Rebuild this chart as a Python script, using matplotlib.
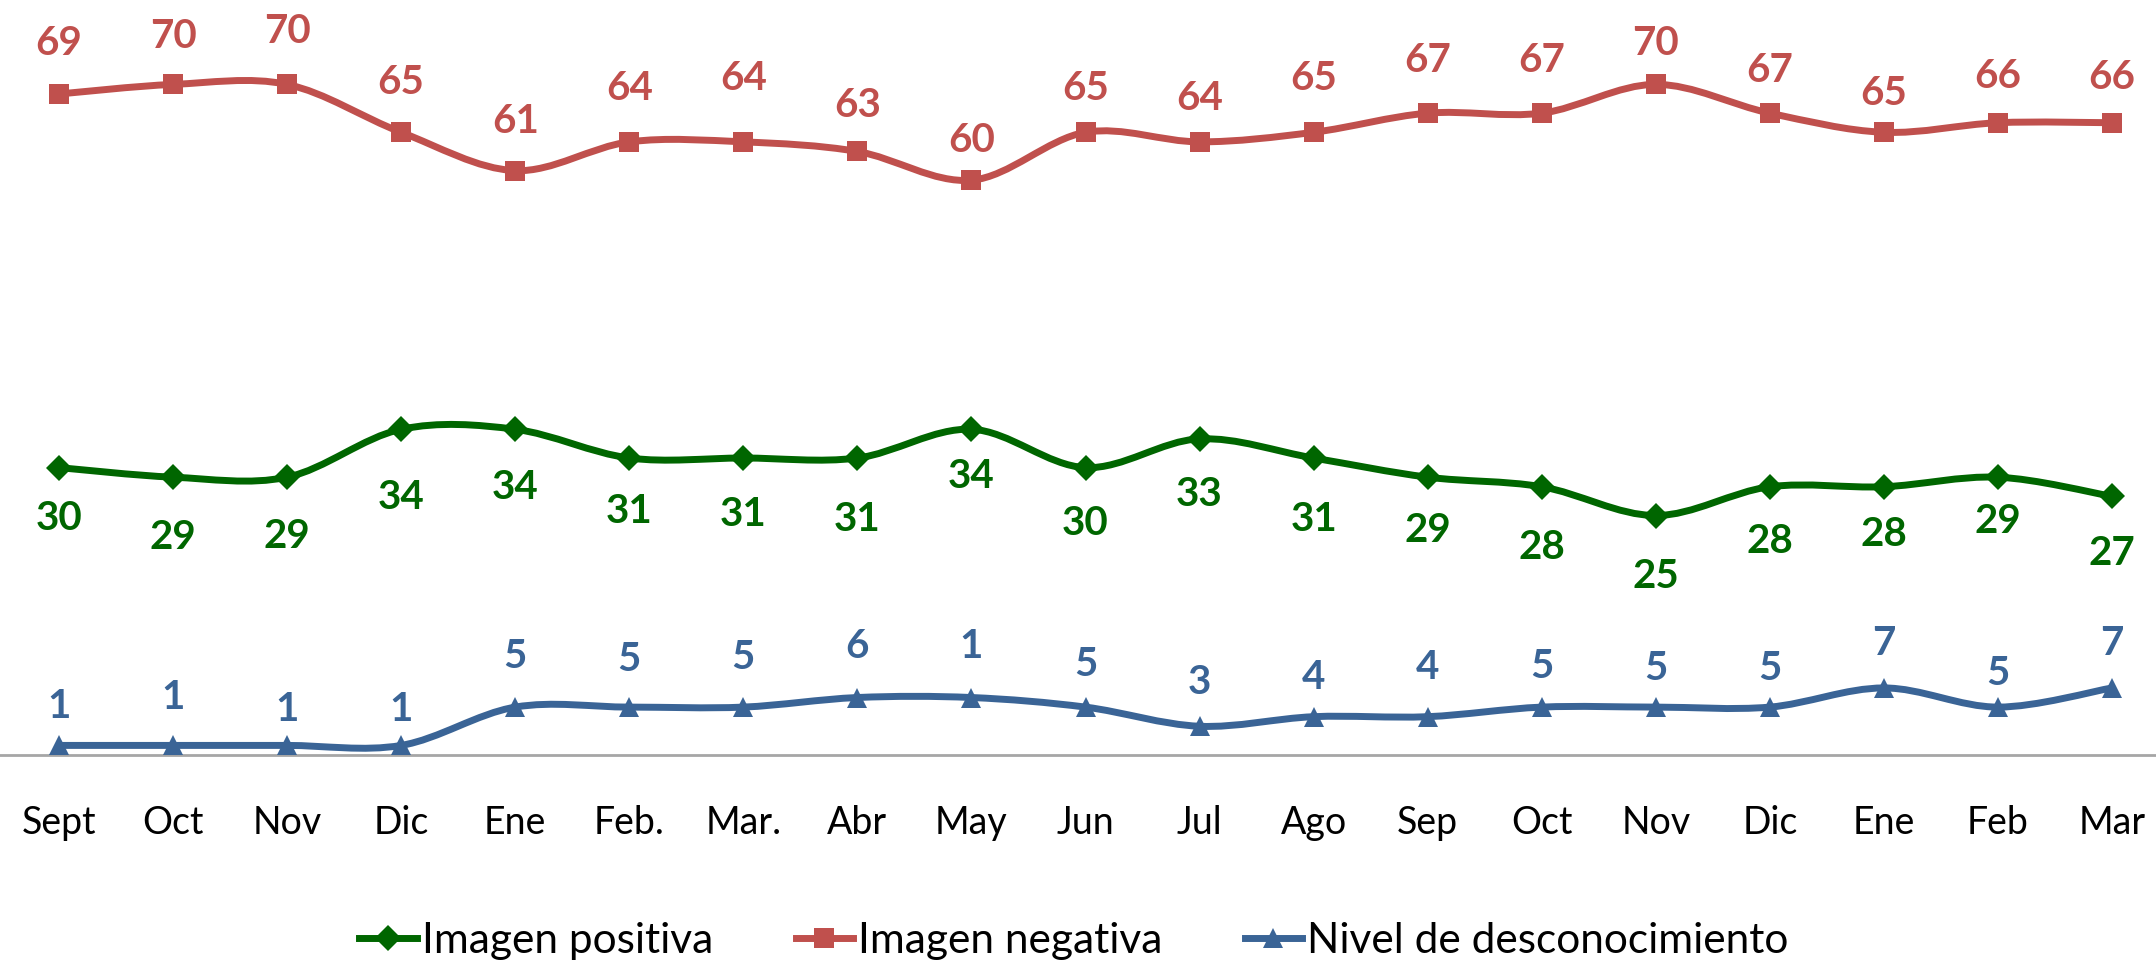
import numpy as np
import matplotlib
matplotlib.use("Agg")
import matplotlib.pyplot as plt
from matplotlib.path import Path
from matplotlib.patches import PathPatch
from matplotlib.lines import Line2D

plt.rcParams['font.family'] = ['Lato', 'DejaVu Sans']

months = ["Sept", "Oct", "Nov", "Dic", "Ene", "Feb.", "Mar.", "Abr", "May", "Jun",
          "Jul", "Ago", "Sep", "Oct", "Nov", "Dic", "Ene", "Feb", "Mar"]

positiva = [30, 29, 29, 34, 34, 31, 31, 31, 34, 30, 33, 31, 29, 28, 25, 28, 28, 29, 27]
negativa = [69, 70, 70, 65, 61, 64, 64, 63, 60, 65, 64, 65, 67, 67, 70, 67, 65, 66, 66]
# plotted level of the "unknown" series and the labels printed on it (May shows "1")
desconoc = [1, 1, 1, 1, 5, 5, 5, 6, 6, 5, 3, 4, 4, 5, 5, 5, 7, 5, 7]
desconoc_labels = ["1", "1", "1", "1", "5", "5", "5", "6", "1", "5", "3", "4", "4",
                   "5", "5", "5", "7", "5", "7"]

GREEN = "#006600"
RED = "#C0504D"
BLUE = "#3A6496"

# label distance from the marker, in pixels (labels were nudged by hand)
off_pos = [47, 56, 55, 64, 54, 49, 52, 57, 43, 52, 52, 57, 49, 57, 57, 51, 44, 40, 53]
off_neg = [54, 52, 57, 54, 53, 57, 67, 50, 44, 48, 47, 58, 57, 57, 45, 47, 43, 50, 49]
off_des = [43, 52, 40, 40, 55, 52, 54, 55, 55, 47, 48, 43, 53, 45, 43, 43, 48, 38, 48]
TEXT_SHIFT = -4  # digits sit above the centre of their text box


def smooth_path(xs, ys):
    # Excel-like smoothed line: Catmull-Rom turned into cubic Bezier segments
    pts = np.column_stack([xs, ys]).astype(float)
    ext = np.vstack([pts[0], pts, pts[-1]])
    verts = [pts[0]]
    codes = [Path.MOVETO]
    for i in range(len(pts) - 1):
        p0, p1, p2, p3 = ext[i], ext[i + 1], ext[i + 2], ext[i + 3]
        c1 = p1 + (p2 - p0) / 6.0
        c2 = p2 - (p3 - p1) / 6.0
        verts += [c1, c2, p2]
        codes += [Path.CURVE4] * 3
    return Path(verts, codes)


W, H = 2156, 961
fig = plt.figure(figsize=(W / 100, H / 100), dpi=100)
axis_y = 755
ax = fig.add_axes([0, 1 - axis_y / H, 1, axis_y / H])
ax.set_xlim(-59 / 114, 18 + 44 / 114)
ax.set_ylim(0, axis_y / 9.58)

x = np.arange(len(months))
series = [
    (positiva, [str(v) for v in positiva], GREEN, "D", 13, off_pos, -1, "Imagen positiva"),
    (negativa, [str(v) for v in negativa], RED, "s", 14.5, off_neg, 1, "Imagen negativa"),
    (desconoc, desconoc_labels, BLUE, "^", 15, off_des, 1, "Nivel de desconocimiento"),
]

handles = []
for vals, labels, color, marker, ms, offs, sign, name in series:
    ax.add_patch(PathPatch(smooth_path(x, vals), facecolor="none", edgecolor=color,
                           lw=5, capstyle="round", joinstyle="round", zorder=2))
    ax.plot(x, vals, linestyle="none", marker=marker, markersize=ms, color=color,
            markeredgewidth=0, zorder=3, clip_on=False)
    for xi, v, lab, o in zip(x, vals, labels, offs):
        ax.annotate(lab, (xi, v), xytext=(0, sign * o + TEXT_SHIFT), textcoords="offset pixels",
                    ha="center", va="center", fontsize=29, fontweight="bold", color=color)
    handles.append(Line2D([], [], color=color, lw=5, marker=marker, markersize=ms,
                          markeredgewidth=0, label=name))

for s in ["top", "left", "right"]:
    ax.spines[s].set_visible(False)
ax.spines["bottom"].set_color("#A6A6A6")
ax.spines["bottom"].set_linewidth(2)
ax.set_yticks([])
ax.set_xticks(x, months)
ax.tick_params(axis="x", length=0, pad=49, labelsize=27)
for t in ax.get_xticklabels():
    t.set_verticalalignment("center")

fig.legend(handles=handles, loc="center", bbox_to_anchor=(1074 / W, 1 - 941 / H),
           ncol=3, frameon=False, fontsize=30.5, handlelength=1.35, handletextpad=0.12,
           columnspacing=1.95, borderaxespad=0, borderpad=0)

fig.savefig("out.png", dpi=100)
